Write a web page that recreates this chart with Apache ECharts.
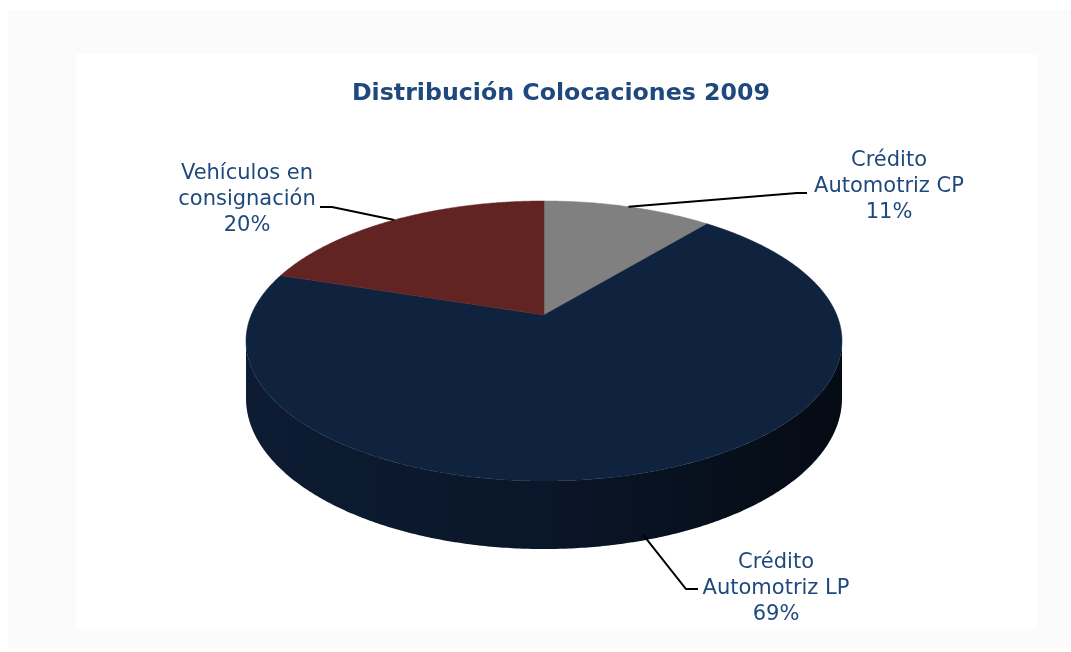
<!DOCTYPE html>
<html>
<head>
<meta charset="utf-8">
<script src="https://cdn.jsdelivr.net/npm/echarts@6/dist/echarts.min.js"></script>
<style>html,body{margin:0;padding:0;background:#fff}#c{width:1071px;height:652px}</style>
</head>
<body>
<div id="c"></div>
<script>
// ---- data ----
const categories = ['Crédito Automotriz CP', 'Crédito Automotriz LP', 'Vehículos en consignación'];
const labelNames = ['Crédito\nAutomotriz CP', 'Crédito\nAutomotriz LP', 'Vehículos en\nconsignación'];
const values = [11, 69, 20];
const titleText = 'Distribución Colocaciones 2009';

// ---- styling / layout ----
const topColors = ['#808080', '#0f233f', '#622423'];
const sideColors = [
  ['#6a6a6a', '#505050', '#3a3a3a'],
  ['#0d1c33', '#0a1629', '#050b13'],
  ['#521d1c', '#401615', '#2c0f0e']
];
const TEXT_COLOR = '#1f497d';
const CX = 544, CY = 315, KX = 292.8, KY = 135.2, PERSP = 0.1857, DEPTH = 55.4;
const labelPos = [[889, 187], [776, 589], [247, 200]];
const leaderElbow = [[[807, 193], [797, 193]], [[698, 589], [686, 589]], [[320, 207], [332, 207]]];

const total = values.reduce((a, b) => a + b, 0);
const starts = [];
let acc = 0;
values.forEach(v => { starts.push(acc); acc += v; });

function proj(t, down) {
  const u = Math.sin(t), v = Math.cos(t);
  const w = 1 + PERSP * v;
  return [CX + KX * u / w, CY - KY * v / w + (down ? DEPTH * down / w : 0)];
}
function arc(t0, t1, down) {
  const pts = [];
  const n = Math.max(2, Math.ceil(Math.abs(t1 - t0) / (Math.PI / 360)));
  for (let i = 0; i <= n; i++) pts.push(proj(t0 + (t1 - t0) * i / n, down));
  return pts;
}

const visA = Math.acos(-PERSP), visB = 2 * Math.PI - Math.acos(-PERSP);

function renderItem(params, api) {
  const i = params.dataIndex;
  const val = api.value(0);
  const t0 = starts[i] / total * 2 * Math.PI;
  const t1 = (starts[i] + val) / total * 2 * Math.PI;
  const children = [];
  // side wall
  const sa = Math.max(t0, visA), sb = Math.min(t1, visB);
  if (sb > sa) {
    const pts = arc(sa, sb, 0).concat(arc(sb, sa, 1));
    const sc = sideColors[i];
    children.push({
      type: 'polygon', z2: 1,
      shape: { points: pts },
      style: {
        fill: new echarts.graphic.LinearGradient(0, 0, 1, 0, [
          { offset: 0, color: sc[0] }, { offset: 0.5, color: sc[1] }, { offset: 1, color: sc[2] }
        ])
      }
    });
  }
  // top face
  children.push({
    type: 'polygon', z2: 2,
    shape: { points: [[CX, CY]].concat(arc(t0, t1, 0)) },
    style: { fill: topColors[i], stroke: topColors[i], lineWidth: 0.5 }
  });
  // leader line
  const tm = (t0 + t1) / 2;
  const front = Math.cos(tm) < -PERSP;
  const anchor = proj(tm, front ? 0.92 : 0);
  const el = leaderElbow[i];
  children.push({
    type: 'polyline', z2: 3,
    shape: { points: [el[0], el[1], anchor] },
    style: { stroke: '#000', lineWidth: 2, fill: null }
  });
  // label
  const pct = Math.round(val / total * 100) + '%';
  children.push({
    type: 'text', z2: 4,
    style: {
      text: labelNames[i] + '\n' + pct,
      x: labelPos[i][0], y: labelPos[i][1],
      align: 'center', verticalAlign: 'middle',
      fill: TEXT_COLOR,
      font: '21px "DejaVu Sans", Verdana, sans-serif',
      lineHeight: 26
    }
  });
  return { type: 'group', children };
}

const chart = echarts.init(document.getElementById('c'), null, { renderer: 'canvas' });
chart.setOption({
  backgroundColor: '#ffffff',
  animation: false,
  graphic: [
    { type: 'rect', z: -10, shape: { x: 8, y: 10, width: 1070, height: 639 }, style: { fill: '#fbfbfb' }, silent: true },
    { type: 'rect', z: -9, shape: { x: 76, y: 54, width: 961, height: 575 }, style: { fill: '#ffffff' }, silent: true }
  ],
  title: {
    text: titleText,
    left: 556, top: 77, textAlign: 'center',
    textStyle: { fontSize: 23.7, fontWeight: 'bold', color: TEXT_COLOR, fontFamily: '"DejaVu Sans", Verdana, sans-serif' }
  },
  series: [{
    type: 'custom',
    coordinateSystem: 'none',
    renderItem: renderItem,
    data: values.map((v, i) => ({ name: categories[i], value: [v] }))
  }]
});
</script>
</body>
</html>
